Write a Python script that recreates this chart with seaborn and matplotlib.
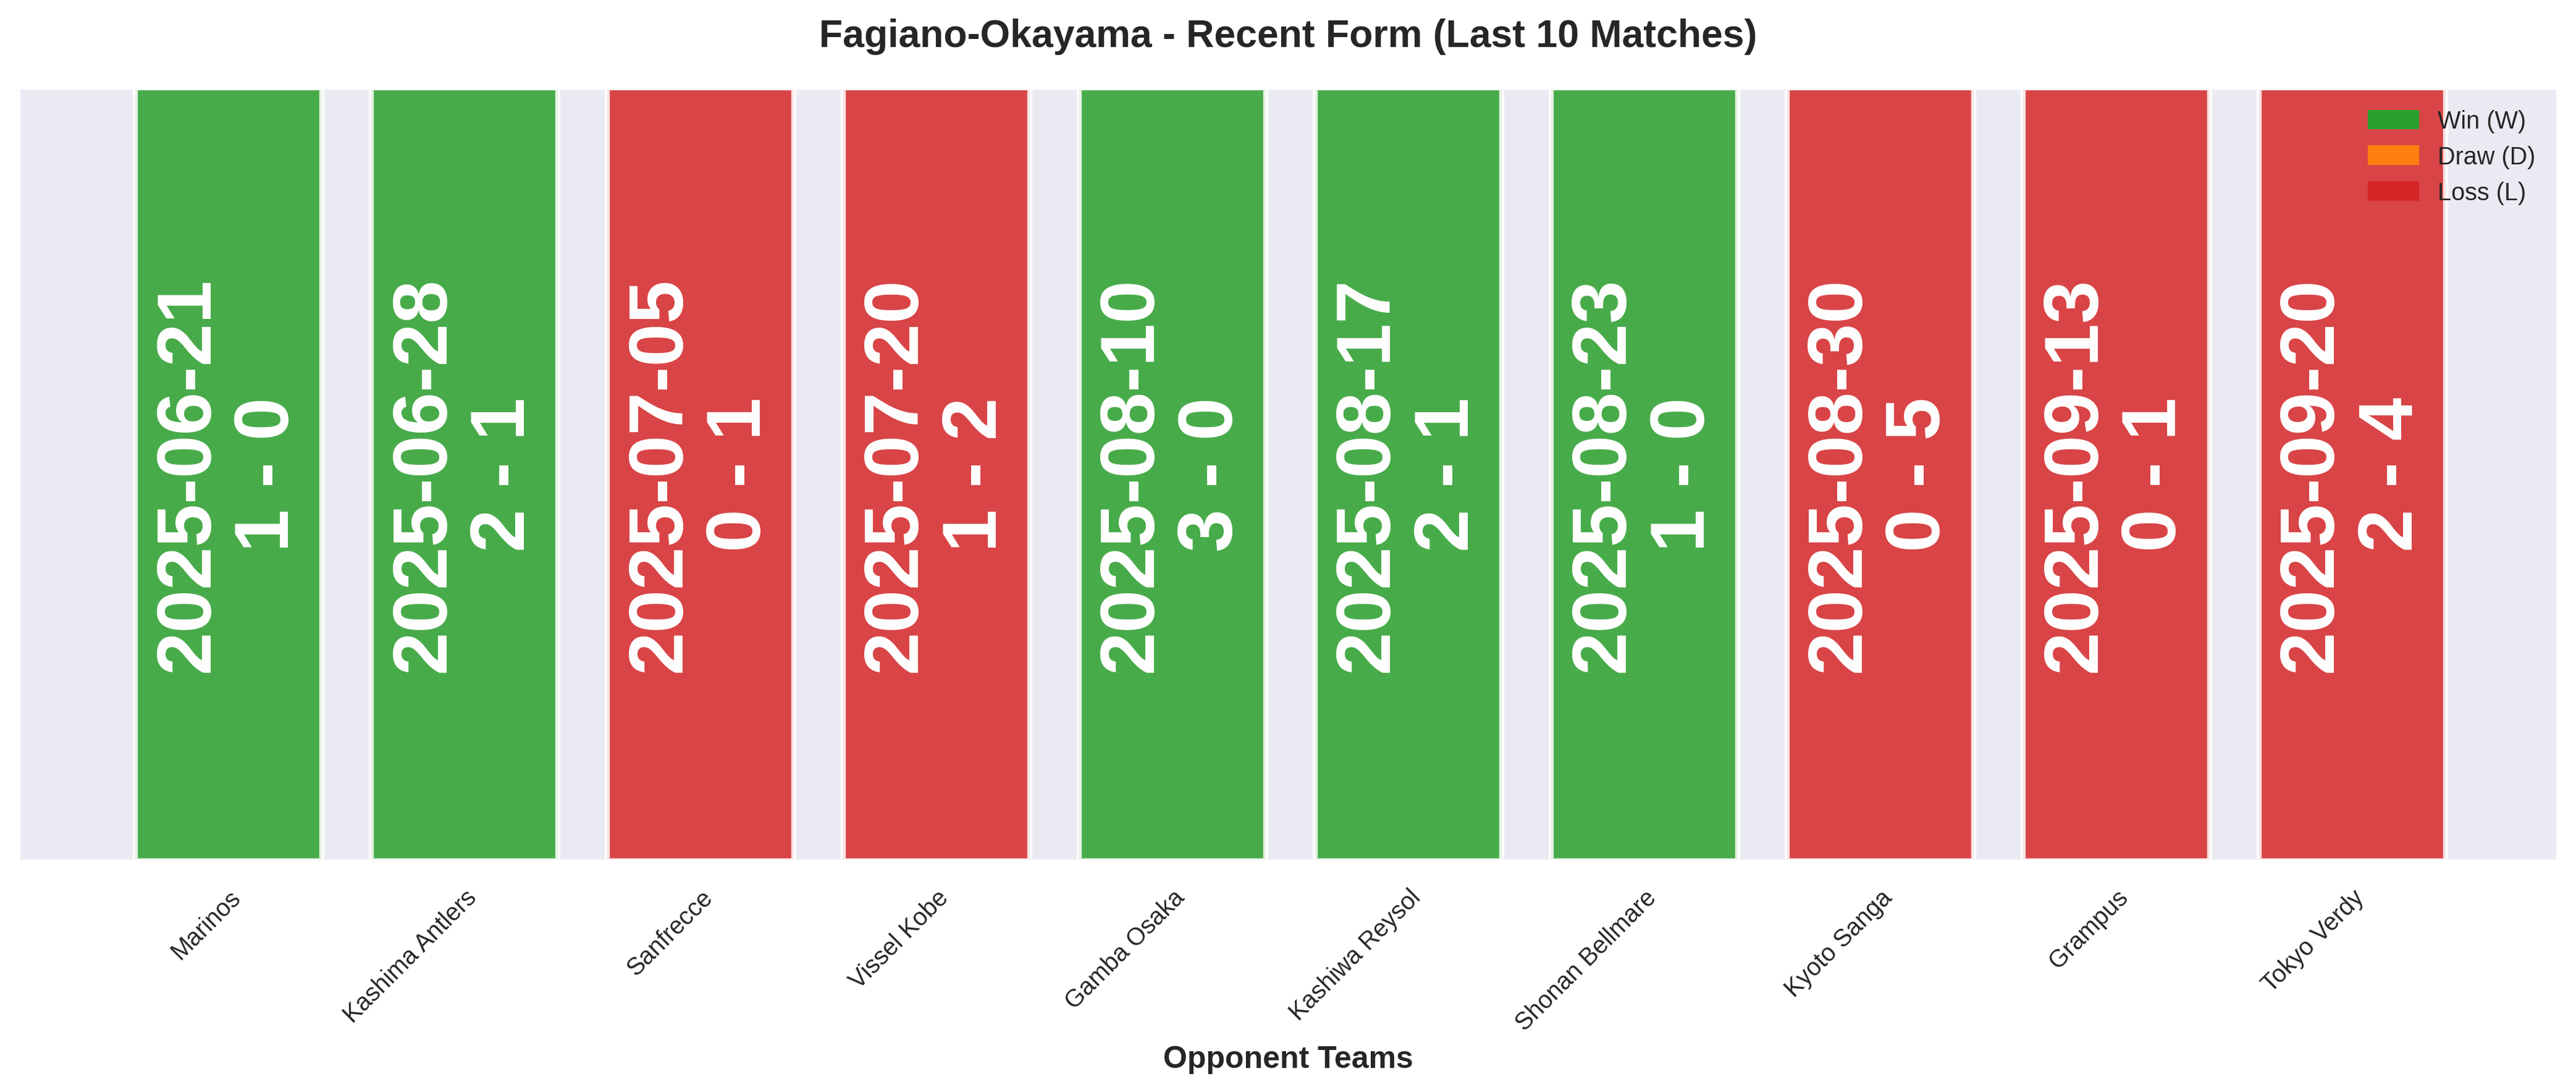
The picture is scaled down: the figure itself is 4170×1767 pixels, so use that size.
import matplotlib
matplotlib.use("Agg")
import matplotlib.pyplot as plt
import seaborn as sns
from matplotlib.patches import Patch

teams = ["Marinos", "Kashima Antlers", "Sanfrecce", "Vissel Kobe", "Gamba Osaka",
         "Kashiwa Reysol", "Shonan Bellmare", "Kyoto Sanga", "Grampus", "Tokyo Verdy"]
dates = ["2025-06-21", "2025-06-28", "2025-07-05", "2025-07-20", "2025-08-10",
         "2025-08-17", "2025-08-23", "2025-08-30", "2025-09-13", "2025-09-20"]
scores = ["1 - 0", "2 - 1", "0 - 1", "1 - 2", "3 - 0", "2 - 1", "1 - 0", "0 - 5", "0 - 1", "2 - 4"]
results = ["W", "W", "L", "L", "W", "W", "W", "L", "L", "L"]
heights = [1] * 10

cmap = {"W": "#2ca02c", "D": "#ff7f0e", "L": "#d62728"}

sns.set_theme(style="darkgrid")
plt.rcParams['font.family'] = ['Liberation Sans', 'DejaVu Sans']
fig, ax = plt.subplots(figsize=(13.9, 5.893), dpi=300)
sns.barplot(x=teams, y=heights, hue=teams, palette=[cmap[r] for r in results],
            legend=False, alpha=0.85, saturation=1, edgecolor="white", linewidth=2,
            width=0.79, ax=ax)
for i, (d, s) in enumerate(zip(dates, scores)):
    ax.text(i, 0.5, f"{d}\n{s}", rotation=90, ha="center", va="center",
            color="white", fontsize=30, fontweight="bold", linespacing=1.15)
ax.set_xlim(-0.89, 9.87)
ax.set_ylim(0, 1)
ax.set_yticks([])
ax.set_ylabel("")
ax.set_xlabel("Opponent Teams", fontsize=12, fontweight="bold")
ax.tick_params(axis="x", labelsize=9.5)
plt.setp(ax.get_xticklabels(), rotation=45, ha="right", rotation_mode="anchor")
ax.set_title("Fagiano-Okayama - Recent Form (Last 10 Matches)", fontsize=15, fontweight="bold", pad=16)
handles = [Patch(color=cmap["W"], label="Win (W)"), Patch(color=cmap["D"], label="Draw (D)"),
           Patch(color=cmap["L"], label="Loss (L)")]
ax.legend(handles=handles, loc="upper right", fontsize=9.5, frameon=False)
plt.tight_layout(pad=0.6)
fig.savefig("out.png", dpi=300)
